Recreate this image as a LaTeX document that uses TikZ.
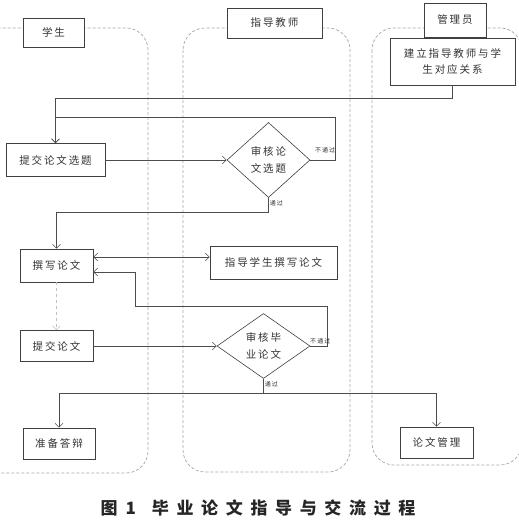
\documentclass[tikz,border=0pt]{standalone}
\usepackage{fontspec}
\setmainfont{Noto Sans CJK SC}[LetterSpace=18]
\newfontfamily\capfont{Noto Sans CJK SC}[LetterSpace=45]
\usetikzlibrary{shapes.geometric,arrows.meta,positioning,calc}

\begin{document}
\begin{tikzpicture}[
    x=1pt, y=-1pt,
    % --- STYLES ---
    box/.style={
        rectangle, draw=black!75, fill=white,
        line width=0.6pt, inner sep=2pt,
        align=center, text=black!80,
        font=\fontsize{10.5}{16}\selectfont
    },
    lanehead/.style={box, line width=0.8pt},
    check/.style={
        diamond, draw=black!75, fill=white,
        line width=0.6pt, inner sep=0pt,
        align=center, text=black!80,
        font=\fontsize{10.5}{17}\selectfont
    },
    lane/.style={draw=black!35, dashed, dash pattern=on 3pt off 2pt, rounded corners=22pt, line width=0.7pt},
    flow/.style={-{Straight Barb[length=4pt,width=8pt]}, draw=black!70, line width=0.6pt},
    lbl/.style={font=\fontsize{6}{7}\selectfont, text=black!80, inner sep=1pt}
]
\useasboundingbox (0,0) rectangle (519,520);

% ===== 1. LANES & HEADERS =====
\draw[lane] (-30,28) rectangle (148,473);
\draw[lane] (183,28) rectangle (350,472);
\draw[lane] (372,28) rectangle (522,465);

\node[lanehead, minimum width=61pt, minimum height=29pt] (hstu) at (53.5,32.5) {学生};
\node[lanehead, minimum width=95pt, minimum height=30pt] (htea) at (274.5,23) {指导教师};
\node[lanehead, minimum width=62pt, minimum height=34pt] (hadm) at (455,20) {管理员};

% ===== 2. NODES =====
\node[box, minimum width=125pt, minimum height=47pt] (rel) at (452.5,61.5) {建立指导教师与学\\生对应关系};

% Student lane
\node[box, minimum width=99pt, minimum height=33pt] (s1) at (55.5,160) {提交论文选题};
\node[box, minimum width=73pt, minimum height=33pt] (s2) at (56.5,265.5) {撰写论文};
\node[box, minimum width=73pt, minimum height=31pt] (s3) at (56.5,346) {提交论文};
\node[box, minimum width=72pt, minimum height=31pt] (s4) at (59,443.5) {准备答辩};

% Teacher lane
\node[check, minimum width=83pt, minimum height=75pt] (d1) at (268.5,160) {审核论\\文选题};
\node[box, minimum width=127pt, minimum height=33pt] (t2) at (273.5,262.5) {指导学生撰写论文};
\node[check, minimum width=93pt, minimum height=65pt] (d2) at (263.5,346) {审核毕\\业论文};

% Admin lane
\node[box, minimum width=73pt, minimum height=31pt] (a2) at (436.5,442.5) {论文管理};

% Helper coordinates
\coordinate (top1) at (55.5,98);
\coordinate (loop1) at (335,117);
\coordinate (pass1) at (268.5,212);
\coordinate (loop2) at (327,306);
\coordinate (back2) at (135,306);
\coordinate (split) at (263.5,393);

% ===== 3. CONNECTIONS =====
\draw[flow] (rel.south) |- (top1) -- (s1.north);
\draw[flow] (s1.east) -- (d1.west);
\draw[flow] (d1.east) -| node[lbl, pos=0.3, above=6pt] {不通过} (loop1) -| (s1.north);
\draw[flow] (d1.south) -- node[lbl, right, pos=0.4] {通过} (pass1) -| (s2.north);

\draw[flow, {Straight Barb[length=4pt,width=8pt]}-{Straight Barb[length=4pt,width=8pt]}]
    ([yshift=8.5pt]s2.east) -- ([yshift=8.5pt]s2.east -| t2.west);
\draw[flow, draw=black!25, dashed] (s2.south) -- (s3.north);
\draw[flow] (s3.east) -- (d2.west);
\draw[flow] (d2.east) -| node[lbl, pos=0.3, above=1pt] {不通过} (loop2) -- (back2) |- ([yshift=-6.5pt]s2.east);

\draw[flow] (d2.south) -- node[lbl, right, pos=0.4] {通过} (split) -| (s4.north);
\draw[flow] (split) -| (a2.north);

% Caption
\node[font=\capfont\bfseries\fontsize{17}{20}\selectfont, text=black!85] (cap) at (258,508) {图\hspace{8pt}1\hspace{16pt}毕业论文指导与交流过程};

\end{tikzpicture}
\end{document}
